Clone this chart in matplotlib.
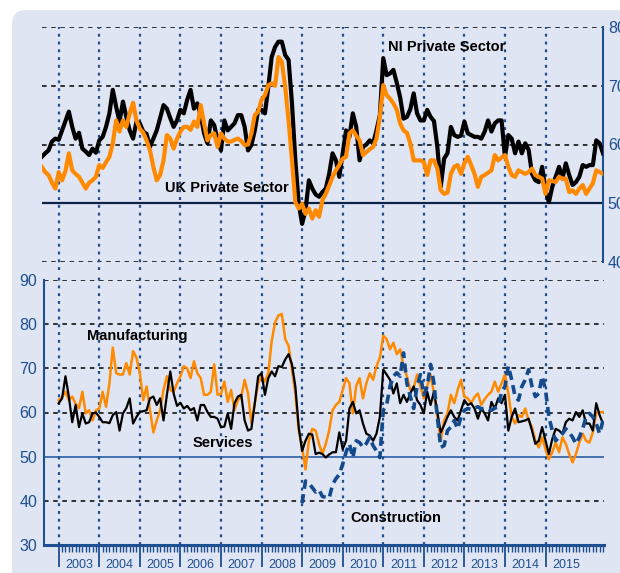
import numpy as np
import matplotlib.pyplot as plt
from matplotlib.patches import FancyBboxPatch

plt.rcParams['font.family'] = ['Liberation Sans', 'DejaVu Sans']

# monthly index values, month 0 = Jan 2003
ni_private = [57.9, 58.5, 59.0, 60.5, 61.0,
              60.8, 62.4, 64.0, 65.6, 63.0, 61.0, 62.0, 59.3, 58.8, 58.2, 59.3, 58.6,
              60.7, 61.3, 63.0, 65.3, 69.3, 66.4, 63.9, 67.3, 64.7, 62.4, 61.0, 63.9,
              63.6, 62.2, 61.8, 59.6, 61.0, 62.4, 64.5, 66.7, 66.1, 64.5, 63.0, 64.1,
              65.9, 65.3, 67.6, 69.3, 66.1, 67.0, 65.0, 61.9, 60.2, 64.1, 63.3, 60.7,
              59.0, 64.1, 62.4, 63.0, 63.6, 65.0, 65.0, 63.0, 59.0, 59.9, 62.4, 65.9,
              65.9, 65.3, 69.8, 74.9, 76.6, 77.5, 77.5, 75.2, 74.4, 67.0, 57.3, 49.9,
              46.5, 48.8, 53.9, 52.5, 51.5, 51.1, 51.9, 52.5, 55.0, 58.5, 57.3, 54.5,
              58.5, 62.4, 61.3, 65.3, 63.0, 57.3, 59.6, 60.0, 60.7, 60.2, 62.4, 65.0,
              74.7, 71.8, 72.1, 72.7, 70.5, 68.0, 64.4, 64.7, 66.0, 68.7, 65.3, 64.1,
              64.1, 65.9, 64.7, 64.0, 59.6, 52.8, 57.6, 58.5, 63.0, 61.6, 61.3, 61.5,
              63.9, 61.9, 61.6, 61.3, 61.3, 61.0, 62.2, 64.1, 62.2, 63.6, 64.1, 64.1,
              57.9, 61.6, 61.0, 58.5, 60.5, 58.5, 60.2, 59.1, 55.0, 53.9, 53.6, 56.2,
              52.2, 50.2, 52.8, 54.5, 56.2, 54.2, 56.8, 54.8, 53.1, 53.6, 54.5, 56.5,
              56.2, 56.5, 56.5, 60.7, 60.2, 58.5]
uk_private = [56.2, 55.3, 54.8, 53.5, 52.5,
              55.3, 53.9, 55.5, 58.5, 55.6, 55.0, 54.5, 53.5, 52.5, 53.5, 53.9, 54.5,
              56.5, 56.0, 57.0, 57.9, 60.2, 64.1, 62.2, 64.1, 63.0, 65.3, 67.1, 64.1,
              62.7, 62.0, 60.7, 59.0, 56.2, 53.9, 54.8, 57.3, 61.6, 61.0, 59.3, 61.0,
              62.2, 63.0, 63.0, 62.5, 63.9, 63.0, 66.7, 63.6, 60.7, 61.6, 61.9, 59.6,
              61.9, 61.0, 60.5, 60.5, 60.8, 61.0, 60.6, 59.9, 60.0, 61.9, 65.0, 65.6,
              67.6, 68.4, 70.1, 70.4, 70.0, 74.9, 74.1, 69.8, 64.1, 57.3, 50.2, 49.1,
              49.9, 48.2, 49.1, 47.4, 48.8, 47.7, 50.5, 51.6, 53.0, 54.5, 55.6, 56.5,
              57.6, 57.9, 61.9, 62.4, 61.5, 60.7, 58.2, 58.7, 59.2, 59.6, 61.0, 64.7,
              70.1, 68.4, 67.8, 67.0, 65.9, 63.6, 62.4, 62.0, 60.2, 57.3, 57.3, 57.3,
              57.0, 54.8, 57.3, 57.3, 55.9, 52.2, 51.6, 51.8, 55.0, 56.2, 56.5, 55.0,
              56.8, 57.9, 56.5, 55.0, 52.8, 54.5, 54.8, 55.2, 55.6, 58.2, 57.3, 57.8,
              58.2, 56.2, 54.8, 54.5, 55.6, 55.3, 55.0, 55.3, 55.9, 54.8, 54.5, 54.2,
              51.6, 53.9, 53.8, 53.6, 54.5, 54.2, 54.2, 51.9, 52.2, 51.6, 52.5, 53.1,
              51.6, 52.5, 53.4, 55.6, 55.3, 55.0]
services = [62.1, 63.2, 68.2, 63.6, 57.8, 61.7, 56.7, 59.8, 57.5, 57.8, 59.8, 60.0,
            59.0, 57.8, 57.8, 57.6, 59.4, 60.1, 55.9, 59.8, 61.0, 63.2, 57.5, 59.0,
            60.1, 60.3, 60.5, 63.2, 63.6, 61.7, 63.2, 58.2, 64.0, 69.3, 64.3, 61.5,
            62.2, 60.9, 61.5, 60.5, 61.0, 58.2, 61.7, 61.7, 60.1, 59.0, 59.0, 58.6,
            56.7, 56.8, 59.8, 56.3, 62.1, 63.6, 64.0, 58.2, 55.9, 56.3, 62.1, 68.2,
            68.9, 64.0, 67.8, 69.3, 68.2, 70.5, 70.3, 72.0, 73.2, 70.9, 65.9, 56.7,
            51.3, 53.6, 55.2, 55.0, 50.6, 50.9, 50.6, 49.8, 50.5, 51.0, 51.0, 55.5,
            51.7, 53.6, 60.9, 62.4, 59.8, 60.5, 57.5, 55.2, 54.8, 53.6, 55.2, 59.0,
            69.7, 68.6, 67.4, 64.3, 66.6, 62.1, 64.0, 62.4, 64.3, 65.9, 62.8, 61.7,
            59.8, 64.7, 61.7, 64.7, 60.1, 55.5, 57.1, 59.0, 60.5, 59.0, 58.2, 60.5,
            62.8, 61.7, 62.1, 60.9, 58.6, 60.9, 59.8, 58.2, 62.4, 60.9, 63.2, 62.1,
            64.0, 55.9, 59.0, 60.9, 57.8, 58.0, 58.2, 58.6, 55.9, 52.9, 53.6, 56.7,
            53.6, 50.6, 54.0, 56.3, 55.9, 55.2, 57.8, 58.6, 58.2, 60.1, 59.0, 60.5,
            57.5, 57.5, 55.9, 62.1, 59.4, 57.5]
manufacturing = [62.8, 63.5, 64.7, 62.8, 63.6, 62.0, 61.0, 64.7, 59.8, 60.5, 58.2, 60.5,
                 60.9, 64.7, 61.3, 66.6, 74.7, 68.9, 68.6, 68.6, 71.2, 68.6, 73.9, 72.4,
                 68.9, 62.8, 65.9, 60.5, 55.5, 58.2, 60.5, 65.1, 68.2, 65.1, 64.7, 66.6,
                 68.2, 70.5, 70.0, 67.8, 71.6, 68.9, 67.8, 64.0, 64.0, 64.7, 70.9, 64.0,
                 64.2, 67.0, 62.4, 65.1, 60.5, 62.8, 63.6, 67.4, 64.3, 57.5, 62.1, 66.6,
                 68.2, 67.0, 68.9, 76.2, 80.4, 82.0, 82.3, 76.6, 75.1, 69.7, 64.3, 55.9,
                 52.1, 47.1, 53.6, 56.3, 55.9, 52.9, 50.6, 52.9, 55.9, 60.5, 61.7, 62.4,
                 65.1, 67.8, 66.6, 59.8, 66.0, 67.8, 63.2, 66.6, 68.9, 67.4, 70.5, 72.4,
                 77.4, 76.6, 74.3, 75.8, 73.2, 74.3, 70.5, 68.2, 65.1, 65.5, 68.6, 65.9,
                 63.2, 65.9, 68.6, 64.3, 59.0, 53.6, 58.2, 59.8, 64.0, 62.1, 65.1, 67.4,
                 63.6, 63.2, 62.1, 63.5, 64.3, 61.7, 63.0, 64.0, 64.7, 67.0, 64.7, 66.6,
                 68.6, 64.3, 59.0, 57.5, 59.4, 59.0, 60.9, 58.2, 56.7, 53.6, 52.1, 54.4,
                 51.7, 49.4, 51.0, 53.2, 51.0, 54.4, 52.9, 50.6, 48.7, 50.6, 53.2, 55.2,
                 53.6, 53.2, 55.5, 59.8, 60.1, 60.1]
construction = [39.5, 44.5, 44.0, 43.0, 42.0, 42.5, 41.0, 40.8, 40.6, 43.7, 45.0, 46.0,
                48.3, 51.0, 52.9, 49.8, 53.6, 53.2, 52.1, 53.0, 54.4, 52.5, 51.3, 49.8,
                60.5, 61.7, 65.9, 68.2, 69.0, 68.2, 73.5, 66.6, 63.6, 60.9, 65.9, 68.6,
                64.0, 65.9, 70.9, 66.6, 59.0, 52.1, 52.5, 55.9, 56.7, 58.2, 56.3, 59.0,
                60.5, 60.9, 60.7, 61.0, 61.3, 60.8, 61.0, 60.8, 60.5, 61.0, 61.3, 64.7,
                65.9, 70.5, 67.4, 63.6, 62.8, 65.9, 67.4, 69.7, 65.9, 63.6, 64.3, 68.2,
                65.1, 59.0, 55.9, 53.6, 54.4, 55.2, 56.3, 55.5, 54.4, 52.9, 54.4, 56.3,
                59.0, 59.8, 59.0, 57.5, 55.2, 58.2]
years = list(range(2003, 2016))

top_m = np.arange(-5, -5 + len(ni_private))
bot_m = np.arange(len(services))
con_m = np.arange(72, 72 + len(construction))
year_m = np.arange(len(years)) * 12

navy = '#1d4f91'
orange = '#ff8a00'

fig = plt.figure(figsize=(6.2, 5.73), dpi=100)

# rounded light-blue panel
bg = fig.add_axes([0, 0, 1, 1], zorder=-5)
bg.set_xlim(0, 620)
bg.set_ylim(573, 0)
bg.axis('off')
bg.add_patch(FancyBboxPatch((12, 10), 650, 620, boxstyle='round,pad=0,rounding_size=14',
                            facecolor='#e0e5f3', edgecolor='none'))

# top panel: private sector
ax1 = fig.add_axes([42 / 620, 1 - 262 / 573, 561 / 620, 235 / 573])
ax1.patch.set_alpha(0)
ax1.set_xlim(-4.94, 161.0)
ax1.set_ylim(40, 80)
for v in [40, 60, 70, 80]:
    ax1.axhline(v, color='black', lw=1.1, ls=(0, (3, 3)), zorder=1)
ax1.axhline(50, color='#0b2347', lw=1.6, zorder=1)
ax1.vlines(year_m, 38.6, 80, colors=navy, lw=1.6, linestyles=(0, (1.3, 2.2)),
           clip_on=False, zorder=1)
ax1.plot(top_m, ni_private, color='black', lw=3.0, zorder=3)
ax1.plot(top_m, uk_private, color=orange, lw=3.0, zorder=4)
ax1.text(97.5, 76.6, 'NI Private Sector', fontsize=10.5, fontweight='bold', va='center')
ax1.text(31.4, 52.6, 'UK Private Sector', fontsize=10.5, fontweight='bold', va='center')
ax1.set_xticks([])
ax1.yaxis.tick_right()
ax1.set_yticks([40, 50, 60, 70, 80])
ax1.tick_params(axis='y', length=0, pad=3.5, labelsize=11.5, labelcolor=navy)
for s in ['top', 'left', 'bottom']:
    ax1.spines[s].set_visible(False)
ax1.spines['right'].set_color(navy)
ax1.spines['right'].set_linewidth(1.5)

# bottom panel: sectors
ax2 = fig.add_axes([44 / 620, 1 - 545 / 573, 560 / 620, 265 / 573])
ax2.patch.set_alpha(0)
ax2.set_xlim(-4.35, 161.3)
ax2.set_ylim(30, 90)
for v in [40, 60, 70, 80, 90]:
    ax2.axhline(v, color='black', lw=1.1, ls=(0, (3, 3)), zorder=1)
ax2.axhline(50, color='#2a5fa5', lw=1.2, zorder=1)
ax2.vlines(year_m, 30, 91.5, colors=navy, lw=1.6, linestyles=(0, (1.3, 2.2)),
           clip_on=False, zorder=1)
ax2.plot(bot_m, manufacturing, color=orange, lw=1.8, zorder=3)
ax2.plot(bot_m, services, color='black', lw=1.6, zorder=4)
ax2.plot(con_m, construction, color='#124a8c', lw=2.6, ls=(0, (2.5, 1.5)), zorder=5)
ax2.text(8.4, 77.4, 'Manufacturing', fontsize=10.5, fontweight='bold', va='center')
ax2.text(39.7, 53.2, 'Services', fontsize=10.5, fontweight='bold', va='center')
ax2.text(86.2, 36.2, 'Construction', fontsize=10.5, fontweight='bold', va='center')

ax2.set_yticks([30, 40, 50, 60, 70, 80, 90])
ax2.tick_params(axis='y', length=0, pad=5, labelsize=11.5, labelcolor=navy)
ax2.set_xticks(year_m)
ax2.set_xticklabels([])
ax2.set_xticks(bot_m, minor=True)
ax2.tick_params(axis='x', which='major', length=16, width=1.3, color=navy)
ax2.tick_params(axis='x', which='minor', length=5, width=1.0, color=navy)
for m, yr in zip(year_m, years):
    ax2.annotate(str(yr), xy=(m + 6, 0), xycoords=('data', 'axes fraction'),
                 xytext=(0, -14.5), textcoords='offset points', ha='center', va='center',
                 fontsize=9, color=navy)
ax2.spines['top'].set_visible(False)
ax2.spines['right'].set_visible(False)
ax2.spines['left'].set_color(navy)
ax2.spines['left'].set_linewidth(1.5)
ax2.spines['bottom'].set_color(navy)
ax2.spines['bottom'].set_linewidth(2.2)

fig.savefig('out.png', dpi=100)
